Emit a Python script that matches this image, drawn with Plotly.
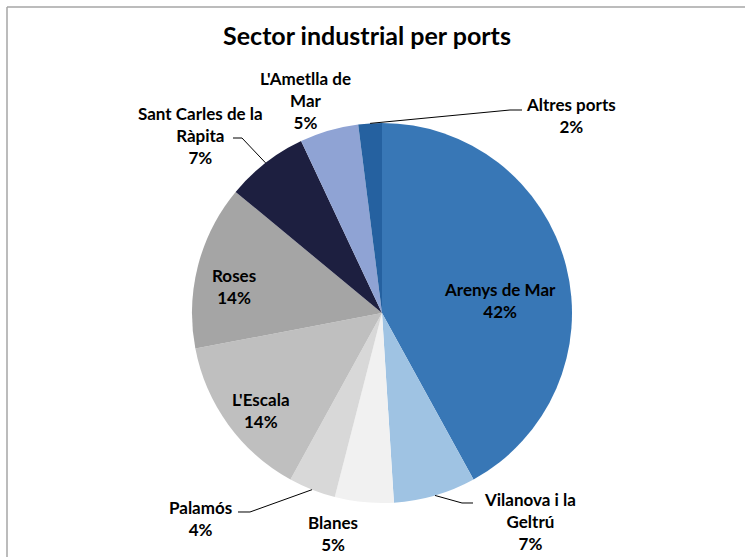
import math
import plotly.graph_objects as go

# data
ports = ["Arenys de Mar", "Vilanova i la Geltrú", "Blanes", "Palamós", "L'Escala",
         "Roses", "Sant Carles de la Ràpita", "L'Ametlla de Mar", "Altres ports"]
shares = [42, 7, 5, 4, 14, 14, 7, 5, 2]
colors = ["#3877b6", "#9fc3e3", "#f1f1f1", "#d8d8d8", "#bfbfbf",
          "#a5a5a5", "#1d1f40", "#8fa3d4", "#2561a0"]
title = "Sector industrial per ports"

W, H = 745, 557
FONT = "Lato"


def px(x):
    return x / W


def py(y):
    return 1 - y / H


# pie geometry in pixels
cx, cy, r = 382, 313, 190

# label text wrapping and placement (pixel centres)
wrapped = {
    "Vilanova i la Geltrú": "Vilanova i la<br>Geltrú",
    "Sant Carles de la Ràpita": "Sant Carles de la<br>Ràpita",
    "L'Ametlla de Mar": "L'Ametlla de<br>Mar",
}
label_pos = {
    "Arenys de Mar": (500, 300),
    "Vilanova i la Geltrú": (530, 521),
    "Blanes": (333, 533),
    "Palamós": (200, 518),
    "L'Escala": (261, 410),
    "Roses": (234, 286),
    "Sant Carles de la Ràpita": (200, 135),
    "L'Ametlla de Mar": (305, 100),
    "Altres ports": (571, 116),
}
# leader lines: elbow, end
leaders = {
    "Vilanova i la Geltrú": [(462, 503), (473, 503)],
    "Palamós": [(250, 512), (238, 512)],
    "Sant Carles de la Ràpita": [(242, 138), (233, 138)],
    "Altres ports": [(510, 110), (522, 110)],
}

fig = go.Figure(go.Pie(
    labels=ports,
    values=shares,
    sort=False,
    direction="clockwise",
    rotation=0,
    marker=dict(colors=colors, line=dict(width=0)),
    textinfo="none",
    showlegend=False,
    domain=dict(x=[px(cx - r), px(cx + r)], y=[py(cy + r), py(cy - r)]),
))

total = sum(shares)
annotations = []
shapes = []
cum = 0
for name, v in zip(ports, shares):
    pct = round(v / total * 100)
    x, y = label_pos[name]
    annotations.append(dict(
        x=px(x), y=py(y), xref="paper", yref="paper",
        text=f"{wrapped.get(name, name)}<br>{pct}%",
        showarrow=False, xanchor="center", yanchor="middle", align="center",
        font=dict(family=FONT, size=17, color="#000000", weight="bold"),
    ))
    mid = (cum + v / 2) / total * 2 * math.pi
    cum += v
    if name in leaders:
        sx = cx + r * math.sin(mid)
        sy = cy - r * math.cos(mid)
        pts = [(sx, sy)] + leaders[name]
        path = "M " + " L ".join(f"{px(a):.5f},{py(b):.5f}" for a, b in pts)
        shapes.append(dict(type="path", path=path, xref="paper", yref="paper",
                           line=dict(color="#000000", width=1)))

# chart-area frame (left and top edges visible)
shapes.append(dict(type="line", xref="paper", yref="paper",
                   x0=px(7), y0=0, x1=px(7), y1=py(7),
                   line=dict(color="#a6a6a6", width=1.5)))
shapes.append(dict(type="line", xref="paper", yref="paper",
                   x0=px(7), y0=py(7), x1=1, y1=py(7),
                   line=dict(color="#a6a6a6", width=1.5)))

fig.update_layout(
    width=W, height=H,
    margin=dict(l=0, r=0, t=0, b=0),
    paper_bgcolor="white",
    plot_bgcolor="white",
    title=dict(text=title, x=px(367), y=py(36), xanchor="center", yanchor="middle",
               font=dict(family=FONT, size=25, color="#000000", weight="bold")),
    annotations=annotations,
    shapes=shapes,
)

fig.write_html("out.html", config={"displayModeBar": False},
               post_script="document.body.style.margin='0';document.body.style.overflow='hidden';")
